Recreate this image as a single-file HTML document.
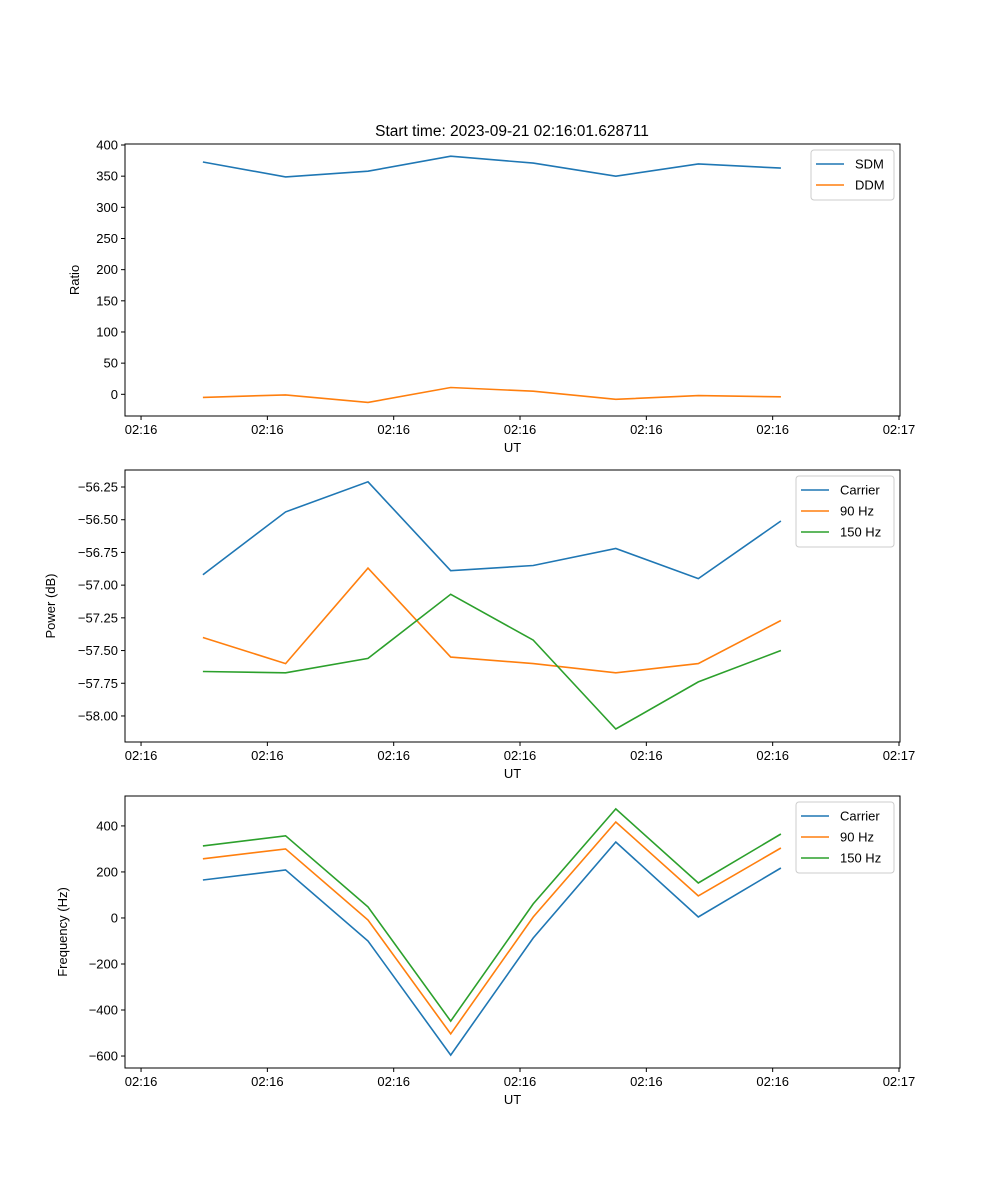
<!DOCTYPE html>
<html><head><meta charset="utf-8"><style>
body{margin:0;background:#fff;}
svg{display:block;font-family:"Liberation Sans","DejaVu Sans",sans-serif;}
</style></head><body>
<svg id="fig" width="1000" height="1200" viewBox="0 0 1000 1200" xmlns="http://www.w3.org/2000/svg">
<rect width="1000" height="1200" fill="#fff"/>
<text x="512" y="136" font-size="15.5" text-anchor="middle">Start time: 2023-09-21 02:16:01.628711</text>
</svg>
<script>
// shared x data (seconds since 02:16:00 relative tick origin)
const times = [0.49, 1.144, 1.797, 2.451, 3.104, 3.758, 4.411, 5.065];
const xTickVals = [0,1,2,3,4,5,6];
const xTickLabels = ["02:16","02:16","02:16","02:16","02:16","02:16","02:17"];

// panel 1
const ratioSDM = [372.8,348.8,358,382,371,350,369.6,363];
const ratioDDM = [-5,-1,-13,11,5,-8,-2,-4];
const ratioTicks = [0,50,100,150,200,250,300,350,400];
// panel 2
const powCarrier = [-56.92,-56.44,-56.21,-56.89,-56.85,-56.72,-56.95,-56.51];
const pow90 = [-57.40,-57.60,-56.87,-57.55,-57.60,-57.67,-57.60,-57.27];
const pow150 = [-57.66,-57.67,-57.56,-57.07,-57.42,-58.10,-57.74,-57.50];
const powTicks = [-58.00,-57.75,-57.50,-57.25,-57.00,-56.75,-56.50,-56.25];
// panel 3
const freqCarrier = [165,209,-100,-596,-87,330,4,217];
const freq90 = [257,300,-9,-504,4,417,96,304];
const freq150 = [313,357,48,-448,61,474,152,365];
const freqTicks = [-600,-400,-200,0,200,400];

const C = ["#1f77b4","#ff7f0e","#2ca02c"];
const NS="http://www.w3.org/2000/svg";
const svg=document.getElementById('fig');
function mk(tag,attrs,parent){const e=document.createElementNS(NS,tag);for(const k in attrs)e.setAttribute(k,attrs[k]);(parent||svg).appendChild(e);return e;}

const L=125,R=900;
const xMin=-0.127,xMax=6.008;
function xs(v){return L+(v-xMin)/(xMax-xMin)*(R-L);}

function panel(top,bottom,yMin,yMax,ticks,fmt,ylabel,series,names,legendW,pname){
  const g=mk('g',{});
  
  
  const ys=v=>bottom-(v-yMin)/(yMax-yMin)*(bottom-top);
  series.forEach((s,si)=>{
    const p=mk('polyline',{points:s.map((v,i)=>xs(times[i]).toFixed(1)+','+ys(v).toFixed(1)).join(' '),fill:'none',stroke:C[si],'stroke-width':1.6},g);
    
    
  });
  mk('rect',{x:L,y:top,width:R-L,height:bottom-top,fill:'none',stroke:'#000','stroke-width':1},g);
  xTickVals.forEach((v,i)=>{
    const x=xs(v);
    mk('line',{x1:x,x2:x,y1:bottom,y2:bottom+4,stroke:'#000'},g);
    const t=mk('text',{x:x,y:bottom+18,'font-size':13,'text-anchor':'middle'},g);
    t.textContent=xTickLabels[i];
    
    
  });
  ticks.forEach(v=>{
    const y=ys(v);
    mk('line',{x1:L-4,x2:L,y1:y,y2:y,stroke:'#000'},g);
    const t=mk('text',{x:L-7,y:y+4.5,'font-size':13,'text-anchor':'end'},g);
    t.textContent=fmt(v);
    
    
  });
  const xl=mk('text',{x:(L+R)/2,y:bottom+36,'font-size':13,'text-anchor':'middle'},g);
  xl.textContent='UT';
  
  
  const yl=mk('text',{x:0,y:0,'font-size':13,'text-anchor':'middle',transform:`translate(${ylabel[1]},${(top+bottom)/2}) rotate(-90)`},g);
  yl.textContent=ylabel[0];
  
  
  // legend
  const lg=mk('g',{},g);
  
  
  const lx=R-6-legendW, ly=top+6;
  mk('rect',{x:lx,y:ly,width:legendW,height:8+names.length*21,rx:3,fill:'#fff',stroke:'#ccc','fill-opacity':0.8},lg);
  names.forEach((n,i)=>{
    const y=ly+14+i*21;
    mk('line',{x1:lx+5,x2:lx+33,y1:y,y2:y,stroke:C[i],'stroke-width':1.6},lg);
    const t=mk('text',{x:lx+44,y:y+4.5,'font-size':13},lg);
    t.textContent=n;
    
    
  });
}
panel(144,416,-34.8,400+(145-144)/0.625,ratioTicks,v=>String(v),['Ratio',79],[ratioSDM,ratioDDM],['SDM','DDM'],83,'ratio-panel');
panel(470,742,-58.199,-56.120,powTicks,v=>v.toFixed(2).replace('-','−'),['Power (dB)',55],[powCarrier,pow90,pow150],['Carrier','90 Hz','150 Hz'],98,'power-panel');
panel(796,1068,-652,530,freqTicks,v=>String(v).replace('-','−'),['Frequency (Hz)',67],[freqCarrier,freq90,freq150],['Carrier','90 Hz','150 Hz'],98,'frequency-panel');
</script>
</body></html>
